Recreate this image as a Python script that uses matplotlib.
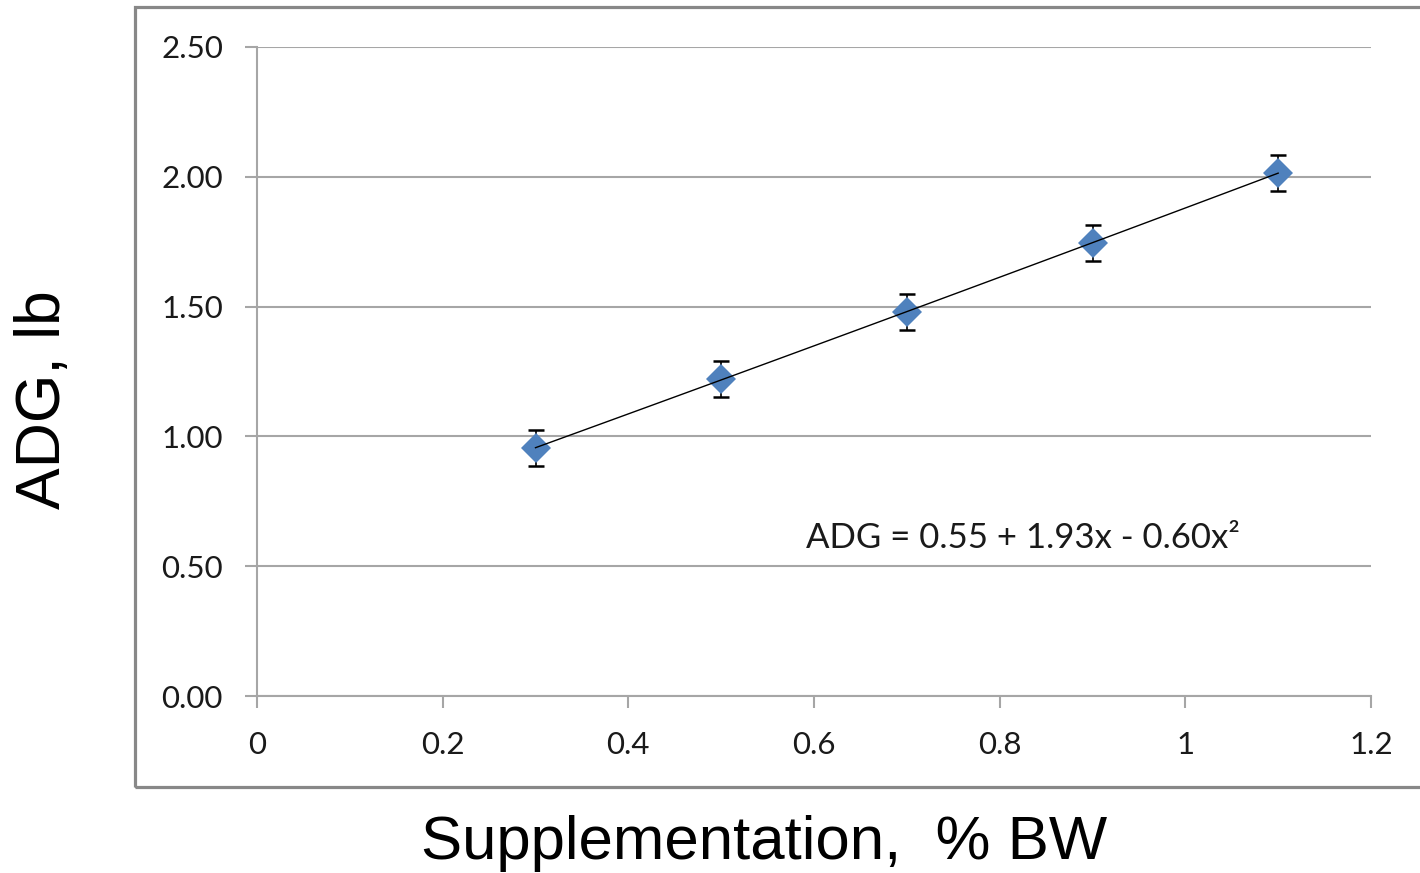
import numpy as np
import matplotlib
matplotlib.use("Agg")
from matplotlib import pyplot as plt
from matplotlib.patches import Rectangle

supp = [0.3, 0.5, 0.7, 0.9, 1.1]            # % BW
adg = [0.955, 1.221, 1.479, 1.745, 2.015]   # lb/d
err = [0.068, 0.070, 0.070, 0.068, 0.070]
yticks = [0.0, 0.5, 1.0, 1.5, 2.0, 2.5]
xticks = [0, 0.2, 0.4, 0.6, 0.8, 1.0, 1.2]
xticklabels = ["0", "0.2", "0.4", "0.6", "0.8", "1", "1.2"]
equation = "ADG = 0.55 + 1.93x - 0.60x\u00b2"

fig = plt.figure(figsize=(14.2, 8.73), dpi=100)
ax = fig.add_axes([257/1420, 1 - 696/873, (1371-257)/1420, (696-47)/873])

# outer chart frame
fig.patches.append(Rectangle((135/1420, 1 - 787/873), 1.0, (787-7)/873,
                             transform=fig.transFigure, fill=False,
                             edgecolor="#888888", linewidth=2.3, zorder=0))

gray = "#a6a6a6"
ax.set_xlim(0, 1.2)
ax.set_ylim(0, 2.5)
ax.set_yticks(yticks)
ax.set_yticklabels(["%.2f" % v for v in yticks])
ax.set_xticks(xticks)
ax.set_xticklabels(xticklabels)
ax.grid(axis="y", color=gray, linewidth=1.5)
ax.set_axisbelow(True)
for s in ["top", "right"]:
    ax.spines[s].set_visible(False)
for s in ["left", "bottom"]:
    ax.spines[s].set_color(gray)
    ax.spines[s].set_linewidth(1.5)
ax.tick_params(direction="out", length=8.5, width=1.5, color=gray,
               labelsize=22.5, labelcolor="#1a1a1a")
ax.tick_params(axis="y", pad=16)
ax.tick_params(axis="x", pad=17)
for lab in ax.get_xticklabels() + ax.get_yticklabels():
    lab.set_family("Lato")

# trend line fitted to the means
coef = np.polyfit(supp, adg, 2)
xs = np.linspace(supp[0], supp[-1], 100)
ax.plot(xs, np.polyval(coef, xs), color="black", linewidth=1.0, zorder=4)

ax.errorbar(supp, adg, yerr=err, fmt="none", ecolor="black",
            elinewidth=1.2, capsize=5.5, capthick=1.8, zorder=2)
ax.plot(supp, adg, "D", color="#4f81bd", markersize=15, markeredgewidth=0,
        zorder=3)

ax.text(0.591, 0.609, equation, ha="left", va="center", fontsize=25,
        family="Lato", color="#1a1a1a")

fig.text(43/1420, 1 - 400/873, "ADG, lb", rotation=90, ha="center",
         va="center", fontsize=45, family="Liberation Sans")
fig.text(764/1420, 1 - 843/873, "Supplementation,  % BW", ha="center",
         va="center", fontsize=44.5, family="Liberation Sans")

fig.savefig("out.png", dpi=100)
